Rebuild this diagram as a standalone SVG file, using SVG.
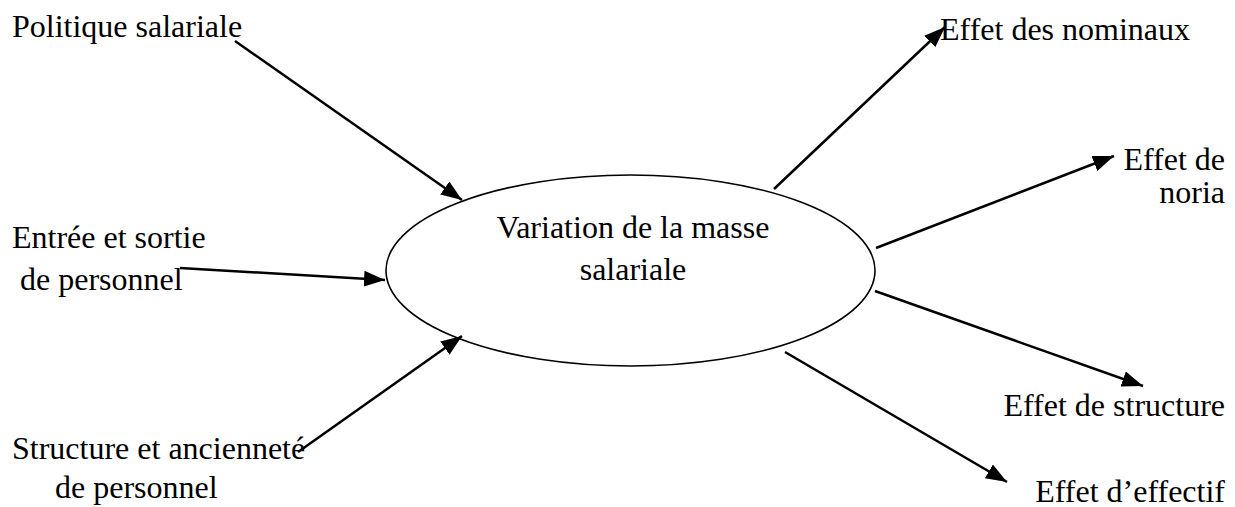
<svg xmlns="http://www.w3.org/2000/svg" width="1235" height="507" viewBox="0 0 1235 507">
<style>
.t{font-family:'Liberation Serif','Times New Roman',serif;font-size:32px;fill:#000}
.c{stroke:#000;stroke-width:2.5;fill:none}
</style>
<defs>
<marker id="ah" markerUnits="userSpaceOnUse" markerWidth="24" markerHeight="18" refX="21" refY="9" orient="auto">
<path d="M0,1 L21,9 L0,17 Z" fill="#000"/>
</marker>
</defs>
<rect width="1235" height="507" fill="#fff"/>
<g id="center">
<ellipse cx="630.5" cy="270.5" rx="244.5" ry="95.5" fill="#fff" stroke="#000" stroke-width="1.6"/>
<text class="t" x="633" y="238" text-anchor="middle">Variation de la masse</text>
<text class="t" x="633" y="280" text-anchor="middle">salariale</text>
</g>
<g id="n-politique"><text class="t" x="12" y="37">Politique salariale</text></g>
<g id="n-entree"><text class="t" x="12" y="248">Entrée et sortie</text><text class="t" x="20" y="290">de personnel</text></g>
<g id="n-structure"><text class="t" x="12" y="459">Structure et ancienneté</text><text class="t" x="55" y="498">de personnel</text></g>
<g id="n-nominaux"><text class="t" x="940" y="40">Effet des nominaux</text></g>
<g id="n-noria"><text class="t" x="1225" y="170" text-anchor="end">Effet de</text><text class="t" x="1225" y="203" text-anchor="end">noria</text></g>
<g id="n-estructure"><text class="t" x="1225" y="416" text-anchor="end">Effet de structure</text></g>
<g id="n-effectif"><text class="t" x="1225" y="502" text-anchor="end">Effet d’effectif</text></g>
<g id="connectors">
<line class="c" x1="235" y1="41" x2="462" y2="200" marker-end="url(#ah)"/>
<line class="c" x1="180" y1="268" x2="385" y2="280" marker-end="url(#ah)"/>
<line class="c" x1="298" y1="452" x2="462" y2="336" marker-end="url(#ah)"/>
<line class="c" x1="774" y1="189" x2="945" y2="27" marker-end="url(#ah)"/>
<line class="c" x1="876" y1="248" x2="1114" y2="156" marker-end="url(#ah)"/>
<line class="c" x1="875" y1="291" x2="1143" y2="386" marker-end="url(#ah)"/>
<line class="c" x1="785" y1="352" x2="1007" y2="482" marker-end="url(#ah)"/>
</g>
</svg>
